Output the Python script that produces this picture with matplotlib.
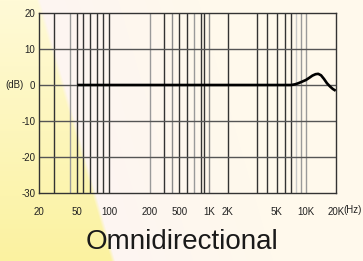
import numpy as np
import matplotlib
matplotlib.use("Agg")
import matplotlib.pyplot as plt

# frequency response (Hz, dB)
freq = [50, 100, 500, 1000, 5000, 7000, 7800, 8500, 9200, 10000, 10800,
        11600, 12500, 13300, 14200, 15200, 16300, 17500, 18700, 20000]
resp = [0, 0, 0, 0, 0, 0, 0.2, 0.5, 0.9, 1.4, 2.0,
        2.6, 3.0, 3.1, 2.7, 1.7, 0.5, -0.4, -1.1, -1.6]

xticks = [20, 50, 100, 200, 500, 1000, 2000, 5000, 10000, 20000]
xticklabels = ['20', '50', '100', '200', '500', '1K', '2K', '5K', '10K', '20K']
yticks = [-30, -20, -10, 0, 10, 20]
title = 'Omnidirectional'

# the chart's hand drawn frequency axis: where each grid frequency sits
grid_f = [20, 30, 40, 50, 60, 70, 80, 90, 100, 200, 300, 400, 500, 600, 700,
          800, 900, 1000, 2000, 3000, 4000, 5000, 6000, 7000, 8000, 9000,
          10000, 20000]
grid_x = [0, 15, 30.7, 38, 44, 50.4, 57.4, 63.7, 70, 110.7, 125, 132.4, 140,
          148, 154.7, 161.4, 164.7, 169.7, 188.4, 217.4, 228, 237.4, 246, 252,
          256.7, 261.4, 266.7, 296.4]
log_f = np.log10(grid_f)
light = {40: '#9a9a9a', 200: '#9a9a9a', 400: '#8a8a8a', 700: '#9a9a9a',
         1000: '#8a8a8a', 8000: '#c8c8c8', 9000: '#9a9a9a', 10000: '#9a9a9a'}


def fwd(f):
    f = np.maximum(np.asarray(f, dtype=float), 1e-9)
    return np.interp(np.log10(f), log_f, grid_x)


def inv(p):
    return 10 ** np.interp(np.asarray(p, dtype=float), grid_x, log_f)


W, H = 363, 261
fig = plt.figure(figsize=(W / 100, H / 100), dpi=100)

# background: yellow wedge on the left, cream elsewhere
bg = fig.add_axes([0, 0, 1, 1])
yy, xx = np.mgrid[0:H, 0:W].astype(float)
edge = 38 + (113 - 38) * yy / H
t = np.clip((xx - edge) / 4 + 0.5, 0, 1)[..., None]
v = (yy / H)[..., None]
yellow = (1 - v) * np.array([255, 250, 215]) + v * np.array([251, 242, 160])
d = np.clip((xx - edge) / 160, 0, 1)[..., None]
cream = (1 - d) * np.array([253, 245, 242]) + d * np.array([255, 249, 236])
img = (1 - t) * yellow + t * cream
bg.imshow(img / 255, aspect='auto', interpolation='bilinear')
bg.axis('off')

ax = fig.add_axes([39.3 / W, (H - 193) / H, 296.4 / W, 180 / H])
ax.set_facecolor('none')
ax.set_xscale('function', functions=(fwd, inv))
ax.set_xlim(20, 20000)
ax.set_ylim(-30, 20)

for f in grid_f[1:-1]:
    ax.axvline(f, color=light.get(f, '#333333'), lw=1.0, zorder=1)
for y in yticks[1:-1]:
    ax.axhline(y, color='#555555', lw=1.0, zorder=1)

ax.plot(freq, resp, color='black', lw=1.9, zorder=3, solid_capstyle='butt')

fnt = ['Liberation Sans Narrow', 'Liberation Sans', 'DejaVu Sans']
ax.set_xticks(xticks)
ax.set_xticklabels(xticklabels)
ax.set_yticks(yticks)
ax.set_yticklabels([str(v) for v in yticks])
ax.xaxis.set_minor_locator(matplotlib.ticker.NullLocator())
ax.tick_params(length=0, labelsize=7, colors='#222222')
ax.tick_params(axis='x', pad=10)
ax.tick_params(axis='y', pad=3)
for lab in ax.get_xticklabels() + ax.get_yticklabels():
    lab.set_family(fnt)
for s in ax.spines.values():
    s.set_color('#333333')
    s.set_linewidth(1.0)

fig.text(15 / W, 1 - 85 / H, '(dB)', ha='center', va='center', fontsize=7,
         family=fnt, color='#222222')
fig.text(362 / W, 1 - 210 / H, '(Hz)', ha='right', va='center', fontsize=7,
         family=fnt, color='#222222')
fig.text(182 / W, 1 - 242 / H, title, ha='center', va='center', fontsize=20,
         family=['Liberation Sans', 'DejaVu Sans'], color='#1a1a1a')

fig.savefig('out.png', dpi=100)
